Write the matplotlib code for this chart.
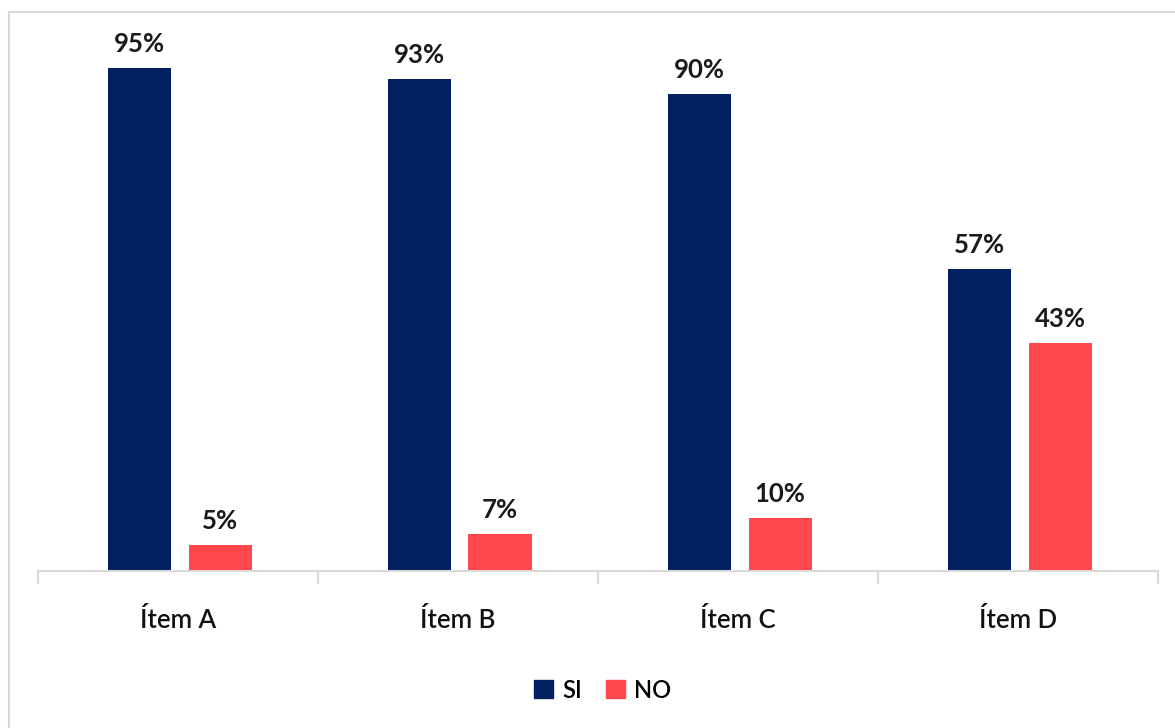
import matplotlib
matplotlib.use("Agg")
import matplotlib.pyplot as plt
from matplotlib.lines import Line2D
from matplotlib.patches import Patch
import numpy as np

categories = ["Ítem A", "Ítem B", "Ítem C", "Ítem D"]
si_values = [95, 93, 90, 57]
no_values = [5, 7, 10, 43]
series_names = ["SI", "NO"]

NAVY = "#00205F"
RED = "#FF474C"

plt.rcParams['font.family'] = ['Lato', 'DejaVu Sans']

W, H = 1175, 728
fig = plt.figure(figsize=(W / 100, H / 100), dpi=100)

# axes placement in pixels
ax_left, ax_right, ax_bottom_px = 38, 1158, 571
px_per_unit = 5.295
ylim_top = 100
ax_top_px = ax_bottom_px - ylim_top * px_per_unit
ax = fig.add_axes([ax_left / W, (H - ax_bottom_px) / H,
                   (ax_right - ax_left) / W, (ax_bottom_px - ax_top_px) / H])

x = np.arange(len(categories))
width = 0.225
b1 = ax.bar(x - 0.138, si_values, width, color=NAVY, label=series_names[0])
b2 = ax.bar(x + 0.150, no_values, width, color=RED, label=series_names[1])

for bars, vals in ((b1, si_values), (b2, no_values)):
    for rect, v in zip(bars, vals):
        ax.text(rect.get_x() + rect.get_width() / 2, v + 24 / px_per_unit, f"{v}%",
                ha="center", va="center", fontsize=18.5, fontweight="bold",
                color="#1a1a1a", clip_on=False)

ax.set_xlim(-0.5, len(categories) - 0.5)
ax.set_ylim(0, ylim_top)
ax.set_yticks([])
for s in ("top", "right", "left"):
    ax.spines[s].set_visible(False)
ax.spines["bottom"].set_color("#d9d9d9")
ax.spines["bottom"].set_linewidth(1.5)

ax.set_xticks(np.arange(-0.5, len(categories), 1.0))
ax.set_xticklabels([])
ax.tick_params(axis="x", length=9, width=1.5, color="#d9d9d9")
ax.set_xticks(x, minor=True)
ax.set_xticklabels(categories, minor=True, fontsize=18.5, color="#111111", fontweight="semibold")
ax.tick_params(axis="x", which="minor", length=0, pad=27)

handles = [Patch(color=NAVY), Patch(color=RED)]
leg = fig.legend(handles, series_names, loc="center", bbox_to_anchor=(603 / W, 1 - 690 / H),
                 ncol=2, frameon=False, handlelength=0.8, handleheight=0.8,
                 handletextpad=0.4, columnspacing=1.0,
                 prop={"size": 17, "weight": "semibold"})

# outer chart border (left and top visible)
fig.add_artist(Line2D([9 / W, 9 / W], [0, 1 - 12 / H], color="#d9d9d9", lw=1.5,
                      transform=fig.transFigure))
fig.add_artist(Line2D([9 / W, 1], [1 - 12 / H, 1 - 12 / H], color="#d9d9d9", lw=1.5,
                      transform=fig.transFigure))

fig.savefig("out.png", dpi=100)
